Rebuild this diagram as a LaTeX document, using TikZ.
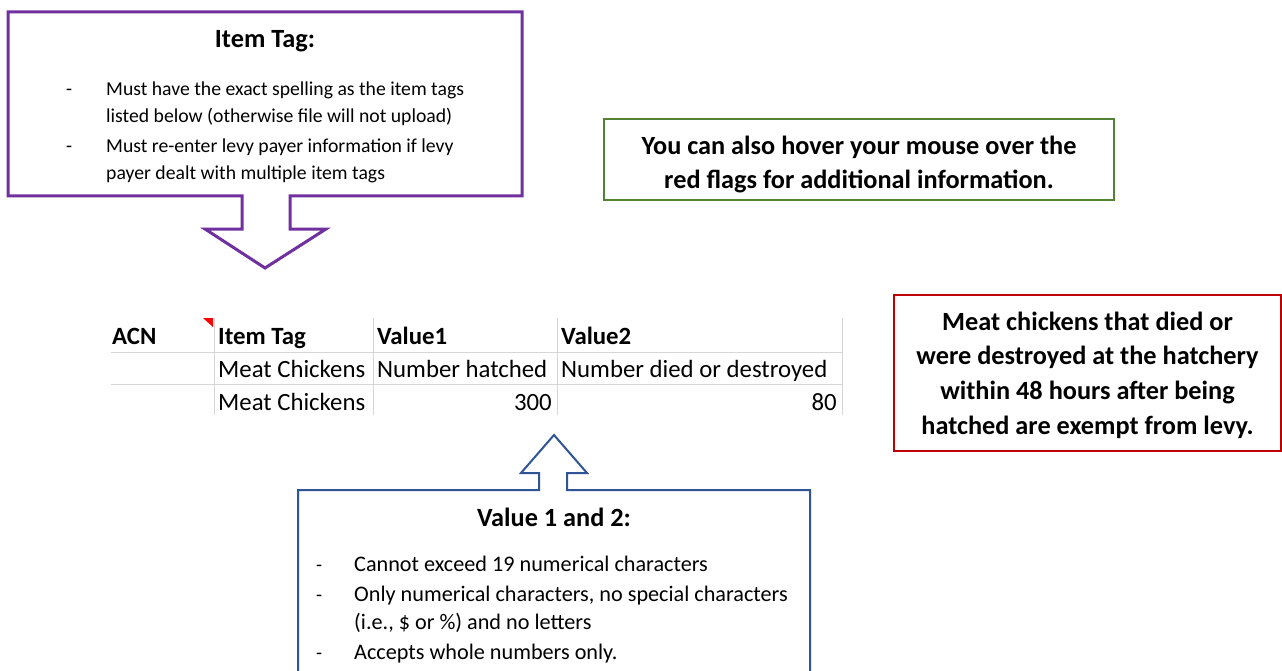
\documentclass[tikz,border=0pt]{standalone}
\usepackage{fontspec}
\setmainfont{Carlito}
\usetikzlibrary{positioning}
\definecolor{tagpurple}{RGB}{112,48,160}
\definecolor{hintgreen}{RGB}{84,130,53}
\definecolor{levyred}{RGB}{192,0,0}
\definecolor{valblue}{RGB}{47,85,151}
\definecolor{gridgray}{RGB}{214,214,214}

\begin{document}
\begin{tikzpicture}
[x=1pt,y=-1pt,
%
body/.style={anchor=base west,inner sep=0pt,font=\fontsize{19.7}{24}\selectfont},
bigbody/.style={body,font=\fontsize{22.2}{27}\selectfont},
bulletmark/.style={body},
title/.style={anchor=base,inner sep=0pt,font=\fontsize{26.3}{32}\selectfont\bfseries},
notebox/.style={draw,line width=2pt,align=center,inner sep=0pt,
  font=\fontsize{26.3}{34.7}\selectfont\bfseries},
cell/.style={anchor=base west,inner sep=0pt,font=\fontsize{24.8}{30}\selectfont},
headcell/.style={cell,font=\fontsize{24.8}{30}\selectfont\bfseries},
numcell/.style={cell,anchor=base east},
%
grid/.style={draw=gridgray,line width=1pt},
outline/.style={line width=2pt,line join=miter}]
%
\useasboundingbox (0,0) rectangle (1282,671);
\fill[white] (0,0) rectangle (1282,671);
%
%% item tag callout
\draw[outline,tagpurple,line width=3pt] (8,12) -- (522,12) -- (522,196) -- (290,196)
  -- (290,229) -- (326,229) -- (265,268) -- (205,229) -- (242,229) -- (242,196)
  -- (8,196) -- cycle;
\node (tagtitle) [title] at (265,48) {Item Tag:};
\node (tagd1) [bulletmark] at (66,96) {-};
\node (tagl1) [body] at (106,96) {Must have the exact spelling as the item tags};
\node (tagl2) [body] at (106,123) {listed below (otherwise file will not upload)};
\node (tagd2) [bulletmark] at (66,153) {-};
\node (tagl3) [body] at (106,153) {Must re-enter levy payer information if levy};
\node (tagl4) [body] at (106,180) {payer dealt with multiple item tags};
%
%% hint and exemption notes
\node (hint) [notebox,hintgreen,text=black,minimum width=510pt,minimum height=81pt]
  at (859,159.5) {};
\node (hinttext) [notebox,draw=none] at (859,164.5)
  {You can also hover your mouse over the\\red flags for additional information.};
\node (exempt) [notebox,levyred,text=black,minimum width=387pt,minimum height=156pt]
  at (1087.5,373) {};
\node (exempttext) [notebox,draw=none] at (1087.5,375)
  {Meat chickens that died or\\were destroyed at the hatchery\\
  within 48 hours after being\\hatched are exempt from levy.};
%
%% spreadsheet rows
\foreach \x in {214,373,557,842}
  \draw[grid] (\x,318) -- (\x,415);
\foreach \y in {352,384}
  \draw[grid] (111,\y) -- (842,\y);
\fill[red] (203,318) -- (213,318) -- (213,327) -- cycle;
%%
\node (acn) [headcell] at (112,344) {ACN};
\node (itemtag) [headcell] at (218,344) {Item Tag};
\node (val1) [headcell] at (377,344) {Value1};
\node (val2) [headcell] at (561,344) {Value2};
%%
\node (tag1) [cell] at (218,377) {Meat Chickens};
\node (hatched) [cell] at (377,377) {Number hatched};
\node (died) [cell] at (561,377) {Number died or destroyed};
\node (tag2) [cell] at (218,410) {Meat Chickens};
\node (num1) [numcell] at (552,410) {300};
\node (num2) [numcell] at (837,410) {80};
%
%% value callout
\draw[outline,valblue] (298,680) -- (298,490) -- (539,490) -- (539,473) -- (521,473)
  -- (554,435) -- (587,473) -- (567,473) -- (567,490) -- (810,490) -- (810,680);
\node (valtitle) [title] at (554,526) {Value 1 and 2:};
\node (vald1) [bulletmark] at (316,571) {-};
\node (vall1) [bigbody] at (354,571) {Cannot exceed 19 numerical characters};
\node (vald2) [bulletmark] at (316,601) {-};
\node (vall2) [bigbody] at (354,601) {Only numerical characters, no special characters};
\node (vall3) [bigbody] at (354,629) {(i.e., \$ or \%) and no letters};
\node (vald3) [bulletmark] at (316,659) {-};
\node (vall4) [bigbody] at (354,659) {Accepts whole numbers only.};
\end{tikzpicture}
\end{document}
